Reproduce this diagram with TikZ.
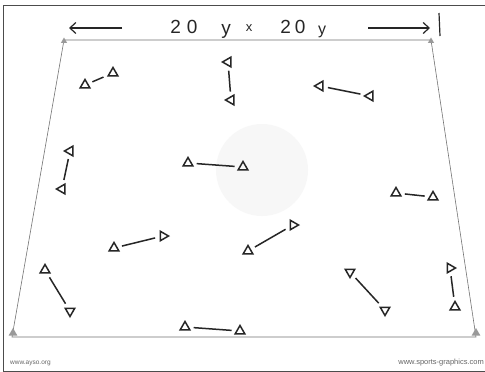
\documentclass[tikz,border=0pt]{standalone}
\usepackage{fontspec}
\setmainfont{Liberation Sans}
\usetikzlibrary{shapes.geometric,arrows.meta}
\begin{document}
\begin{tikzpicture}[x=1pt,y=-1pt,
  cone/.style={regular polygon, regular polygon sides=3, draw=black!85, line width=1.5pt, minimum size=11pt, inner sep=0pt},
  link/.style={draw=black!85, line width=1.5pt, shorten >=4.5pt, shorten <=4.5pt},
  field/.style={draw=black!55, line width=0.6pt},
  marker/.style={fill=black!40, draw=none, regular polygon, regular polygon sides=3, minimum size=7pt, inner sep=0pt},
  hand/.style={font=\fontsize{19}{19}\selectfont, text=black!85, inner sep=0pt},
  credit/.style={font=\fontsize{6.5}{7}\selectfont, text=black!60, inner sep=0pt}]
\useasboundingbox (0,0) rectangle (485,372);
\fill[white] (0,0) rectangle (485,372);
% outer frame
\draw[black!70, line width=0.8pt] (485,5) -- (3,5) -- (3,371) -- (485,371);
% watermark
\fill[black!3] (262,170) circle (46);
% field
\coordinate (TL) at (64,40);
\coordinate (TR) at (431,40);
\coordinate (BR) at (476,337);
\coordinate (BL) at (12,337);
\draw[field] (TL) -- (TR) -- (BR) -- (BL) -- cycle;
\node[marker] at (64,41) {};
\node[marker] at (431,41) {};
\node[marker, minimum size=10pt] at (13,333) {};
\node[marker, minimum size=10pt] at (476,333) {};
% title
\node[hand] (n1) at (184,27) {2\kern6pt0};
\node[hand] (y1) at (226,31) {y};
\node[hand, font=\fontsize{13}{13}\selectfont] (xx) at (249,28) {x};
\node[hand] (n2) at (293,27) {2\kern4pt0};
\node[hand, font=\fontsize{16}{16}\selectfont] (y2) at (322,32) {y};
\coordinate (la) at (122,28);
\coordinate (lb) at (69,28);
\coordinate (ra) at (368,28);
\coordinate (rb) at (430,28);
\coordinate (ba) at (439,13);
\coordinate (bb) at (440,36);
\draw[black!85, line width=1.2pt, -{Straight Barb[length=6pt,width=11pt]}] (la) -- (lb);
\draw[black!85, line width=1.2pt, -{Straight Barb[length=6pt,width=11pt]}] (ra) -- (rb);
\draw[black!85, line width=1.2pt] (ba) -- (bb);
% cones and links
\node[cone] (a1) at (85,85) {};
\node[cone] (a2) at (113,73) {};
\draw[link] (a1) -- (a2);
\node[cone, rotate=90] (b1) at (228,62) {};
\node[cone, rotate=90] (b2) at (231,100) {};
\draw[link] (b1) -- (b2);
\node[cone, rotate=90] (c1) at (320,86) {};
\node[cone, rotate=90] (c2) at (370,96) {};
\draw[link] (c1) -- (c2);
\node[cone, rotate=90] (d1) at (70,151) {};
\node[cone, rotate=90] (d2) at (62,189) {};
\draw[link] (d1) -- (d2);
\node[cone] (e1) at (188,163) {};
\node[cone] (e2) at (243,167) {};
\draw[link] (e1) -- (e2);
\node[cone] (f1) at (396,193) {};
\node[cone] (f2) at (433,197) {};
\draw[link] (f1) -- (f2);
\node[cone] (g1) at (114,248) {};
\node[cone, rotate=-90] (g2) at (163,236) {};
\draw[link] (g1) -- (g2);
\node[cone] (h1) at (248,251) {};
\node[cone, rotate=-90] (h2) at (293,225) {};
\draw[link] (h1) -- (h2);
\node[cone, rotate=-120] (i1) at (45,270) {};
\node[cone, rotate=180] (i2) at (70,311) {};
\draw[link] (i1) -- (i2);
\node[cone] (j1) at (185,327) {};
\node[cone] (j2) at (240,331) {};
\draw[link] (j1) -- (j2);
\node[cone, rotate=180] (k1) at (350,272) {};
\node[cone, rotate=180] (k2) at (385,310) {};
\draw[link] (k1) -- (k2);
\node[cone, rotate=-90] (l1) at (450,268) {};
\node[cone] (l2) at (455,307) {};
\draw[link] (l1) -- (l2);
% credits
\node[credit, anchor=west] (ayso) at (10,363) {www.ayso.org};
\node[credit, anchor=east, font=\fontsize{7.5}{8}\selectfont] (sg) at (484,363) {www.sports-graphics.com};
\end{tikzpicture}
\end{document}
